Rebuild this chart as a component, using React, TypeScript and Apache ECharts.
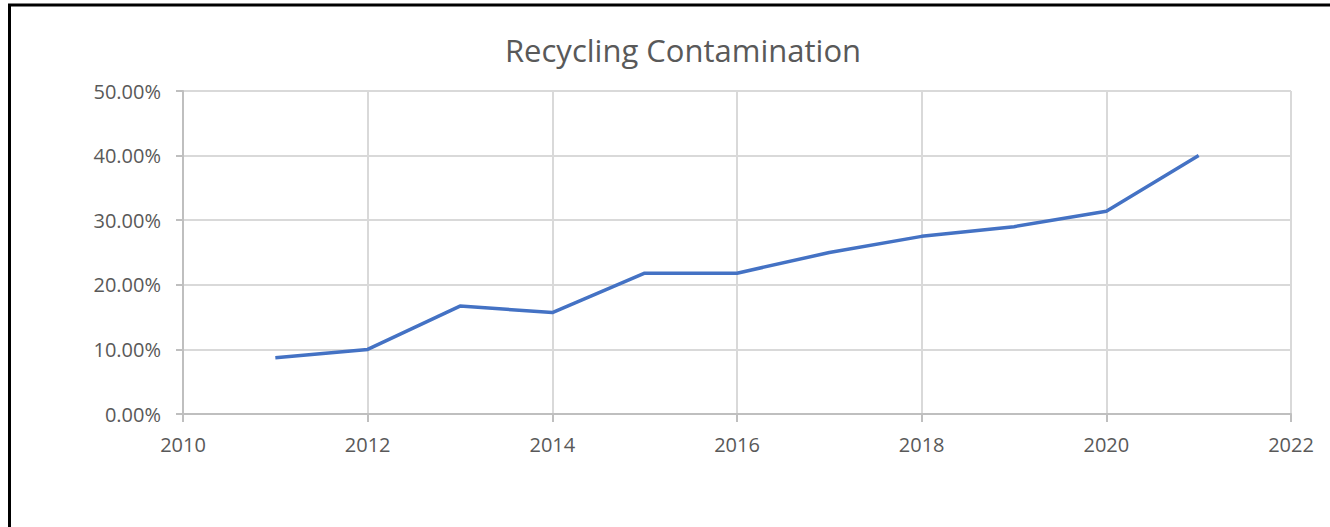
import React, { useEffect, useRef } from "react";
import * as echarts from "echarts";

const years = [2011, 2012, 2013, 2014, 2015, 2016, 2017, 2018, 2019, 2020, 2021];
const contamination = [0.087, 0.1, 0.167, 0.157, 0.218, 0.218, 0.25, 0.275, 0.29, 0.314, 0.4];
const titleText = "Recycling Contamination";

export default function App() {
  const ref = useRef<HTMLDivElement>(null);
  useEffect(() => {
    if (!ref.current) return;
    const chart = echarts.init(ref.current, null, { renderer: "svg" });
    const font = "'Open Sans', sans-serif";
    chart.setOption({
      animation: false,
      backgroundColor: "#ffffff",
      title: {
        text: titleText,
        left: 678,
        textAlign: "center",
        top: 29,
        textStyle: { color: "#595959", fontSize: 31, fontWeight: "normal", fontFamily: font },
      },
      graphic: [
        {
          type: "rect",
          shape: { x: 9.5, y: 5, width: 1400, height: 700 },
          style: { fill: "none", stroke: "#000000", lineWidth: 3 },
          silent: true,
        },
      ],
      grid: { left: 183, right: 39, top: 91, bottom: 113, containLabel: false },
      xAxis: {
        type: "value",
        min: 2010,
        max: 2022,
        interval: 2,
        axisLine: { show: true, lineStyle: { color: "#bfbfbf", width: 2 } },
        axisTick: { show: true, length: 8, lineStyle: { color: "#bfbfbf", width: 2 } },
        splitLine: { show: true, lineStyle: { color: "#d9d9d9", width: 2 } },
        axisLabel: { color: "#595959", fontSize: 20, fontFamily: font, margin: 20, formatter: (v: number) => String(v) },
      },
      yAxis: {
        type: "value",
        min: 0,
        max: 0.5,
        interval: 0.1,
        axisLine: { show: true, lineStyle: { color: "#bfbfbf", width: 2 } },
        axisTick: { show: true, length: 7, lineStyle: { color: "#bfbfbf", width: 2 } },
        splitLine: { show: true, lineStyle: { color: "#d9d9d9", width: 2 } },
        axisLabel: {
          color: "#595959",
          fontSize: 20,
          fontFamily: font,
          margin: 22,
          formatter: (v: number) => (v * 100).toFixed(2) + "%",
        },
      },
      series: [
        {
          type: "line",
          data: years.map((y, i) => [y, contamination[i]]),
          showSymbol: false,
          symbol: "none",
          lineStyle: { color: "#4472C4", width: 3.5 },
        },
      ],
    });
    return () => chart.dispose();
  }, []);
  return (
    <div
      ref={ref}
      style={{ position: "fixed", left: 0, top: 0, width: 1330, height: 527 }}
    />
  );
}
